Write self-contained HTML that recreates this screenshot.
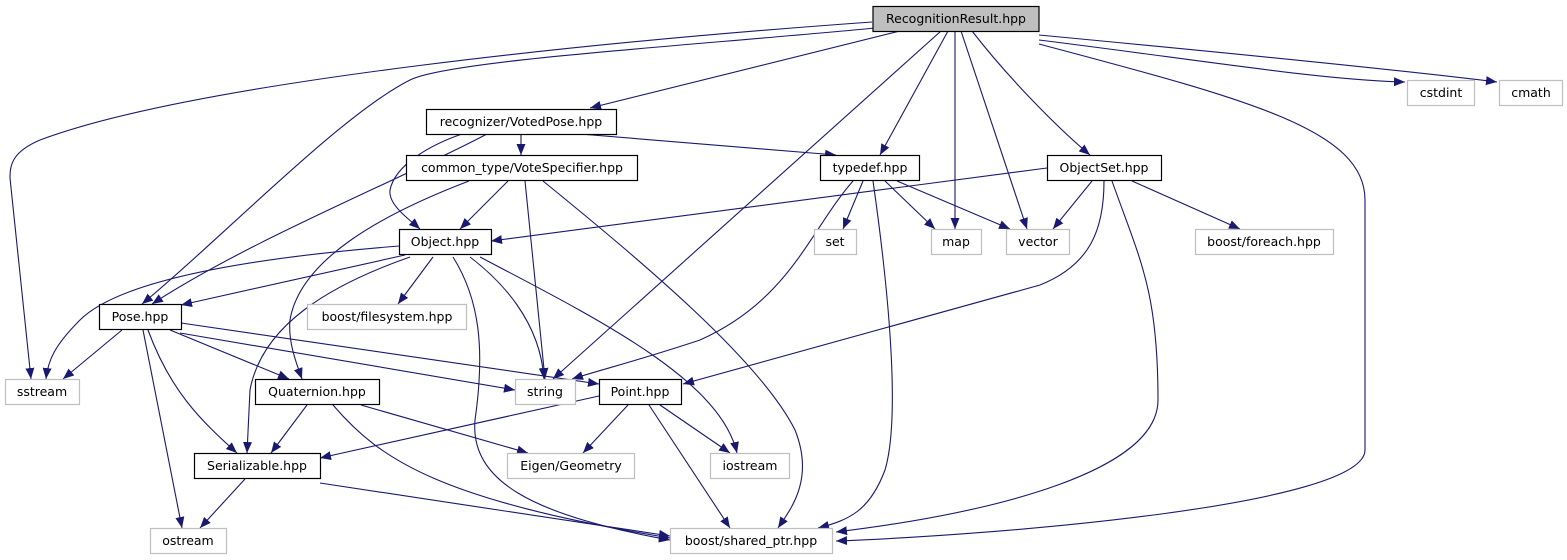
<!DOCTYPE html>
<html><head><meta charset="utf-8"><style>body{margin:0;background:#fff}svg{display:block}</style></head><body>
<svg width="1567" height="560" viewBox="0 0 1567 560" xmlns="http://www.w3.org/2000/svg">
<defs><marker id="a" markerUnits="userSpaceOnUse" markerWidth="12" markerHeight="10" refX="11" refY="4.5" orient="auto"><path d="M0,0 L11,4.5 L0,9 z" fill="#191970"/></marker></defs>
<g fill="none" stroke="#191970" stroke-width="1.1" marker-end="url(#a)">
<path d="M872,22 C620,40 200,80 40,140 C12,152 10,165 10,178 L31,379"/>
<path d="M875,28 C700,45 450,60 410,80 C340,115 220,240 142,304"/>
<path d="M900,31 L590,108"/>
<path d="M941,31 L553,379"/>
<path d="M948,31 L880,155"/>
<path d="M955,31 L955,229"/>
<path d="M961,31 L1027,229"/>
<path d="M972,31 C1010,80 1060,130 1090,155"/>
<path d="M1039,40 C1200,60 1320,80 1405,82"/>
<path d="M1039,35 C1250,55 1400,70 1497,82"/>
<path d="M1039,44 C1250,100 1365,130 1365,200 L1365,450 C1365,505 1000,535 836,541"/>
<path d="M462,134 C430,145 395,165 390,190 C388,205 410,220 420,229"/>
<path d="M487,134 C400,180 250,240 152,304"/>
<path d="M521,134 L521,155"/>
<path d="M580,134 L836,155"/>
<path d="M508,181 L460,229"/>
<path d="M469,181 C380,215 300,260 290,320 C288,340 295,360 302,379"/>
<path d="M525,181 L545,379"/>
<path d="M543,181 C640,260 760,360 795,430 C815,480 790,510 778,528"/>
<path d="M863,181 L843,229"/>
<path d="M885,181 L935,229"/>
<path d="M897,181 L1010,229"/>
<path d="M853,181 C810,230 790,300 700,340 C640,360 600,370 572,379"/>
<path d="M873,181 C890,300 900,420 885,470 C870,510 850,520 818,528"/>
<path d="M1047,168 L491,241"/>
<path d="M1092,181 L1053,229"/>
<path d="M1132,181 L1240,229"/>
<path d="M1104,181 C1104,230 1090,265 1040,285 L683,384"/>
<path d="M1112,181 C1140,260 1158,290 1158,400 C1158,470 1000,512 836,532"/>
<path d="M399,246 C250,258 120,280 80,320 C55,345 48,360 46,379"/>
<path d="M405,255 L181,305"/>
<path d="M433,257 L398,304"/>
<path d="M410,257 C330,285 262,325 250,390 L247,453"/>
<path d="M470,257 C500,280 540,320 544,379"/>
<path d="M480,257 C600,320 720,380 737,453"/>
<path d="M453,257 C480,300 485,350 475,420 C470,480 530,515 670,540"/>
<path d="M122,330 L63,379"/>
<path d="M170,330 L289,379"/>
<path d="M180,333 L515,390"/>
<path d="M181,323 L599,384"/>
<path d="M143,330 L182,528"/>
<path d="M148,330 C170,390 200,420 237,453"/>
<path d="M307,405 L271,453"/>
<path d="M361,405 L528,453"/>
<path d="M333,405 C380,460 440,500 670,538"/>
<path d="M599,396 L320,458"/>
<path d="M628,405 L583,453"/>
<path d="M660,405 L730,453"/>
<path d="M649,405 L730,528"/>
<path d="M245,479 L200,528"/>
<path d="M320,483 L670,536"/>
</g>
<g font-family="DejaVu Sans, Liberation Sans, sans-serif" font-size="12.5" text-anchor="middle" fill="#000">
<g stroke-width="1.2" fill="#fff" stroke="#000">
<rect x="873" y="6.5" width="166" height="25" fill="#bfbfbf"/>
<rect x="426.5" y="109.5" width="190" height="25"/>
<rect x="406.5" y="155.5" width="231" height="25"/>
<rect x="820.5" y="155.5" width="99" height="25"/>
<rect x="1047.5" y="155.5" width="114" height="25"/>
<rect x="399.5" y="229.5" width="92" height="25"/>
<rect x="99.5" y="304.5" width="82" height="25"/>
<rect x="255.5" y="379.5" width="124" height="25"/>
<rect x="599.5" y="379.5" width="82" height="25"/>
<rect x="194.5" y="453.5" width="126" height="25"/>
</g>
<g fill="#fff" stroke="#bfbfbf" stroke-width="1.2">
<rect x="1407.5" y="80.5" width="67" height="25"/>
<rect x="1499.5" y="80.5" width="63" height="25"/>
<rect x="814.5" y="229.5" width="42" height="25"/>
<rect x="931.5" y="229.5" width="50" height="25"/>
<rect x="1006.5" y="229.5" width="63" height="25"/>
<rect x="1195.5" y="229.5" width="138" height="25"/>
<rect x="307.5" y="304.5" width="159" height="25"/>
<rect x="5.5" y="379.5" width="74" height="25"/>
<rect x="515.5" y="379.5" width="60" height="25"/>
<rect x="507.5" y="453.5" width="127" height="25"/>
<rect x="710.5" y="453.5" width="79" height="25"/>
<rect x="150.5" y="528.5" width="76" height="25"/>
<rect x="670.5" y="528.5" width="162" height="25"/>
</g>
<text x="956" y="23">RecognitionResult.hpp</text>
<text x="521" y="126">recognizer/VotedPose.hpp</text>
<text x="522" y="172">common_type/VoteSpecifier.hpp</text>
<text x="870" y="172">typedef.hpp</text>
<text x="1104" y="172">ObjectSet.hpp</text>
<text x="445" y="246">Object.hpp</text>
<text x="140" y="321">Pose.hpp</text>
<text x="317" y="396">Quaternion.hpp</text>
<text x="640" y="396">Point.hpp</text>
<text x="257" y="470">Serializable.hpp</text>
<text x="1441" y="97">cstdint</text>
<text x="1531" y="97">cmath</text>
<text x="835" y="246">set</text>
<text x="956" y="246">map</text>
<text x="1038" y="246">vector</text>
<text x="1264" y="246">boost/foreach.hpp</text>
<text x="387" y="321">boost/filesystem.hpp</text>
<text x="42" y="396">sstream</text>
<text x="545" y="396">string</text>
<text x="571" y="470">Eigen/Geometry</text>
<text x="750" y="470">iostream</text>
<text x="188" y="545">ostream</text>
<text x="751" y="545">boost/shared_ptr.hpp</text>
</g>
</svg>
</body></html>
